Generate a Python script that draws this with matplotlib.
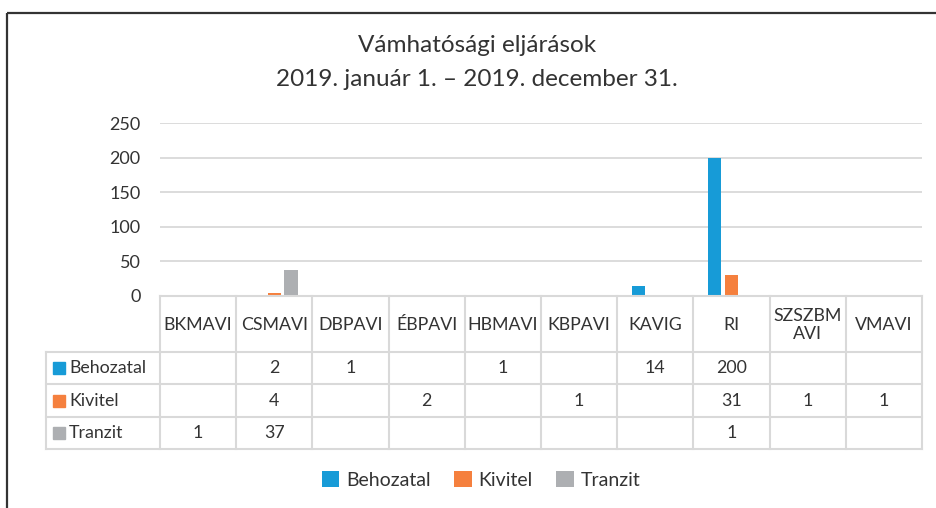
import matplotlib
matplotlib.use("Agg")
import matplotlib.pyplot as plt
from matplotlib.patches import Patch
import numpy as np

plt.rcParams['font.family'] = ['Lato', 'DejaVu Sans']

categories = ["BKMAVI", "CSMAVI", "DBPAVI", "ÉBPAVI", "HBMAVI", "KBPAVI", "KAVIG", "RI", "SZSZBM\nAVI", "VMAVI"]
series_names = ["Behozatal", "Kivitel", "Tranzit"]
behozatal = [None, 2, 1, None, 1, None, 14, 200, None, None]
kivitel = [None, 4, None, 2, None, 1, None, 31, 1, 1]
tranzit = [1, 37, None, None, None, None, None, 1, None, None]
series = [behozatal, kivitel, tranzit]
colors = ["#179BD7", "#F5803E", "#ADAFB2"]
yticks = [0, 50, 100, 150, 200, 250]
title_lines = ["Vámhatósági eljárások", "2019. január 1. – 2019. december 31."]

W, H = 937, 508
fig = plt.figure(figsize=(W / 100, H / 100), dpi=100)
txt = "#333333"
grid = "#D9D9D9"

# plot axes
x_left, x_right = 160, 922
y_top, y_bot = 123.3, 296
ax = fig.add_axes([x_left / W, 1 - y_bot / H, (x_right - x_left) / W, (y_bot - y_top) / H])
n = len(categories)
x = np.arange(n)
bw = 0.175
offs = [-0.22, 0.0, 0.22]
for s, c, o in zip(series, colors, offs):
    vals = [v if v is not None else 0 for v in s]
    ax.bar(x + o, vals, width=bw, color=c, zorder=3)
ax.set_xlim(-0.5, n - 0.5)
ax.set_ylim(0, 250)
ax.set_yticks(yticks)
ax.set_yticklabels([str(t) for t in yticks], fontsize=13, color=txt)
ax.tick_params(axis='y', length=0, pad=14)
ax.set_xticks([])
for sp in ax.spines.values():
    sp.set_visible(False)
ax.yaxis.grid(True, color=grid, linewidth=1.3, zorder=0)
ax.set_axisbelow(True)

# overlay axes in pixel coordinates for the data table and frame
ov2 = fig.add_axes([0, 0, 1, 1], zorder=5)
ov2.set_xlim(0, W)
ov2.set_ylim(H, 0)
ov2.axis('off')
ov2.patch.set_alpha(0)

# frame
ov2.plot([7, W], [13, 13], color="#333333", lw=1.6, solid_capstyle='butt')
ov2.plot([7, 7], [13, H], color="#333333", lw=1.6, solid_capstyle='butt')

# title
ov2.text(477, 45, title_lines[0], ha='center', va='center', fontsize=17.5, color=txt)
ov2.text(477, 80, title_lines[1], ha='center', va='center', fontsize=17.5, color=txt)

colw = (x_right - x_left) / n
col_edges = [x_left + i * colw for i in range(n + 1)]
row_edges = [296, 352, 384, 417, 449]
lab_left = 46
lw = 1.5
ov2.plot([x_left, x_right], [row_edges[0], row_edges[0]], color=grid, lw=lw)
for ye in row_edges[1:]:
    ov2.plot([lab_left, x_right], [ye, ye], color=grid, lw=lw)
for xe in col_edges:
    ov2.plot([xe, xe], [row_edges[0], row_edges[-1]], color=grid, lw=lw)
ov2.plot([lab_left, lab_left], [row_edges[1], row_edges[-1]], color=grid, lw=lw)

fs = 12.8
for i, cat in enumerate(categories):
    ov2.text(col_edges[i] + colw / 2, (row_edges[0] + row_edges[1]) / 2 + 1, cat,
             ha='center', va='center', fontsize=fs, color=txt, linespacing=1.2)
for r, (name, s, c) in enumerate(zip(series_names, series, colors)):
    yc = (row_edges[r + 1] + row_edges[r + 2]) / 2
    ov2.add_patch(plt.Rectangle((53, yc - 6), 12, 12, color=c))
    ov2.text(69, yc, name, ha='left', va='center', fontsize=fs, color=txt)
    for i, v in enumerate(s):
        if v is not None:
            ov2.text(col_edges[i] + colw / 2, yc, str(v), ha='center', va='center', fontsize=fs, color=txt)

handles = [Patch(facecolor=c, edgecolor='none', label=nm) for nm, c in zip(series_names, colors)]
fig.legend(handles=handles, loc='center', bbox_to_anchor=(481 / W, 1 - 480 / H), ncol=3,
           frameon=False, fontsize=14, handlelength=0.9, handleheight=0.9,
           handletextpad=0.35, columnspacing=1.2, labelcolor=txt)

fig.savefig("out.png", dpi=100)
